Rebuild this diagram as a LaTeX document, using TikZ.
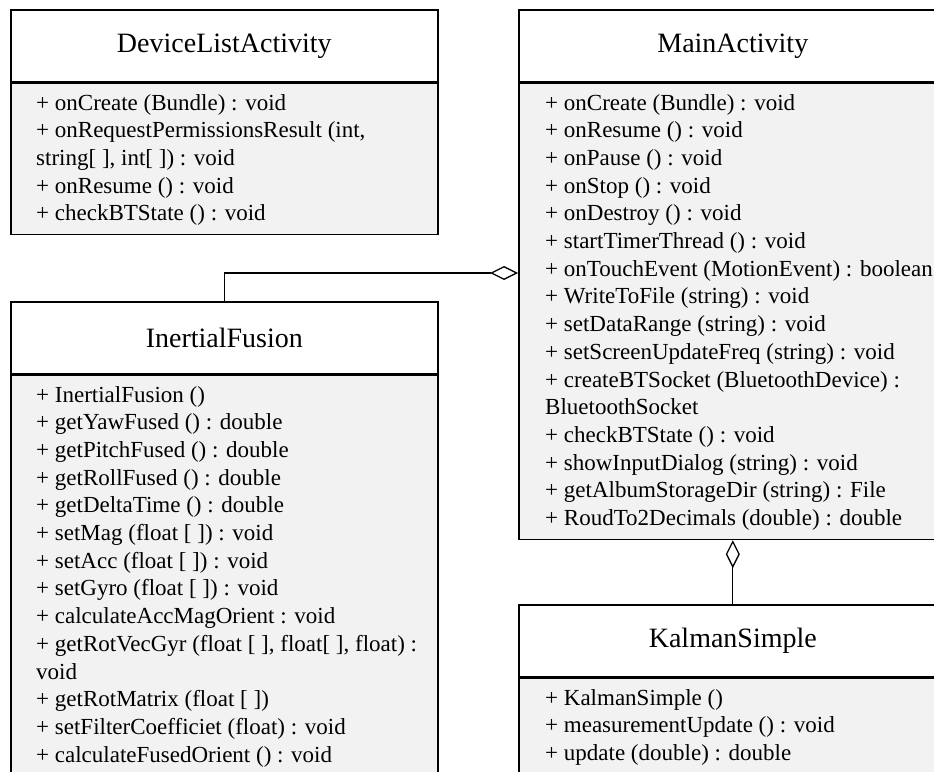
\documentclass[tikz,border=0pt]{standalone}
\usepackage{fontspec}
\setmainfont{Liberation Serif}
\usetikzlibrary{arrows.meta}
\definecolor{opsfill}{RGB}{242,242,242}
\tikzset{
  classtitle/.style={draw=black, line width=1.6bp, fill=white, rectangle,
    inner sep=0pt, anchor=north west,
    font=\fontsize{28bp}{32bp}\selectfont},
  classops/.style={draw=black, line width=1.6bp, fill=opsfill, rectangle,
    inner sep=0pt, anchor=north west},
  opline/.style={anchor=base west, inner sep=0pt,
    font=\fontsize{23bp}{27.7bp}\selectfont},
  aggr/.style={draw=black, line width=1.3bp,
    -{Diamond[open, length=28bp, width=14bp, line width=1.3bp]}},
}
\begin{document}
\begin{tikzpicture}[x=1bp, y=-1bp]
\useasboundingbox (0,0) rectangle (934,772);
\clip (0,0) rectangle (934,772);

% DeviceListActivity
\node[classtitle, minimum width=427bp, minimum height=72bp] (dlaT) at (10,9) {DeviceListActivity};
\node[classops, minimum width=427bp, minimum height=151bp] (dlaB) at (dlaT.south west) {};
\foreach \t [count=\i from 0] in {
  {+ onCreate (Bundle) : void},
  {+ onRequestPermissionsResult (int,},
  {string[ ], int[ ]) : void},
  {+ onResume () : void},
  {+ checkBTState () : void}}
  \node[opline] (dla-\i) at (36, 110+27.7*\i) {\t};

% InertialFusion
\node[classtitle, minimum width=427bp, minimum height=72bp] (ifT) at (10,301) {InertialFusion};
\node[classops, minimum width=427bp, minimum height=440bp] (ifB) at (ifT.south west) {};
\foreach \t [count=\i from 0] in {
  {+ InertialFusion ()},
  {+ getYawFused () : double},
  {+ getPitchFused () : double},
  {+ getRollFused () : double},
  {+ getDeltaTime () : double},
  {+ setMag (float [ ]) : void},
  {+ setAcc (float [ ]) : void},
  {+ setGyro (float [ ]) : void},
  {+ calculateAccMagOrient : void},
  {+ getRotVecGyr (float [ ], float[ ], float) :},
  {void},
  {+ getRotMatrix (float [ ])},
  {+ setFilterCoefficiet (float) : void},
  {+ calculateFusedOrient () : void}}
  \node[opline] (if-\i) at (36, 402+27.7*\i) {\t};

% MainActivity
\node[classtitle, minimum width=428bp, minimum height=72bp] (maT) at (518,9) {MainActivity};
\node[classops, minimum width=428bp, minimum height=456bp] (maB) at (maT.south west) {};
\foreach \t [count=\i from 0] in {
  {+ onCreate (Bundle) : void},
  {+ onResume () : void},
  {+ onPause () : void},
  {+ onStop () : void},
  {+ onDestroy () : void},
  {+ startTimerThread () : void},
  {+ onTouchEvent (MotionEvent) : boolean},
  {+ WriteToFile (string) : void},
  {+ setDataRange (string) : void},
  {+ setScreenUpdateFreq (string) : void},
  {+ createBTSocket (BluetoothDevice) :},
  {BluetoothSocket},
  {+ checkBTState () : void},
  {+ showInputDialog (string) : void},
  {+ getAlbumStorageDir (string) : File},
  {+ RoudTo2Decimals (double) : double}}
  \node[opline] (ma-\i) at (545, 110+27.7*\i) {\t};

% KalmanSimple
\node[classtitle, minimum width=428bp, minimum height=72bp] (ksT) at (518,604) {KalmanSimple};
\node[classops, minimum width=428bp, minimum height=140bp] (ksB) at (ksT.south west) {};
\foreach \t [count=\i from 0] in {
  {+ KalmanSimple ()},
  {+ measurementUpdate () : void},
  {+ update (double) : double}}
  \node[opline] (ks-\i) at (545, 705+27.7*\i) {\t};

% Aggregations into MainActivity
\coordinate (maIn) at (maB.west |- 0,273);
\draw[aggr] (ifT.north) |- (maIn);
\draw[aggr] (ksT.north) -- (maB.south);
\end{tikzpicture}
\end{document}
